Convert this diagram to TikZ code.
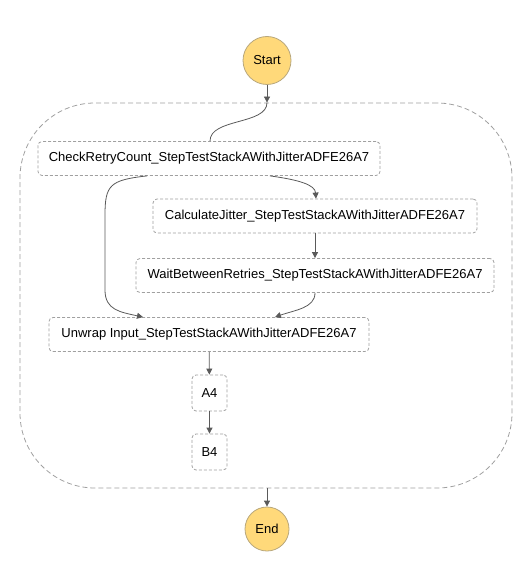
\documentclass[tikz,border=0pt]{standalone}
\usepackage{fontspec}
\setmainfont{Liberation Sans}
\usetikzlibrary{arrows.meta,calc}
\definecolor{dashgray}{HTML}{A0A0A0}
\definecolor{linegray}{HTML}{5A5A5A}
\definecolor{termfill}{HTML}{FFD97A}
\definecolor{termline}{HTML}{B8A77C}
\tikzset{
  statebox/.style={draw=dashgray, dashed, dash pattern=on 3pt off 2pt, rounded corners=4pt, line width=0.8pt,
    minimum height=34pt, inner xsep=0pt, font=\fontsize{13}{15}\selectfont, text=black},
  term/.style={circle, draw=termline, fill=termfill, line width=0.8pt, inner sep=0pt,
    font=\fontsize{13}{15}\selectfont},
  conn/.style={draw=linegray, line width=0.8pt, -{Triangle[length=6pt,width=6pt]}},
  plainconn/.style={draw=linegray, line width=0.8pt},
}
\begin{document}
\begin{tikzpicture}[x=1pt,y=-1pt]
\useasboundingbox (0,0) rectangle (528,569);
\node[draw=dashgray, dashed, dash pattern=on 5pt off 3pt, line width=0.8pt, rounded corners=75pt,
  minimum width=492pt, minimum height=385pt, inner sep=0pt] (container) at (266,295.5) {};
\node[term, minimum size=48pt] (start) at (267,60.5) {Start};
\node[term, minimum size=44pt] (end) at (267,529) {End};
\node[statebox, minimum width=342pt] (check) at (209,158.5) {CheckRetryCount\_StepTestStackAWithJitterADFE26A7};
\node[statebox, minimum width=324pt] (calc) at (315,216) {CalculateJitter\_StepTestStackAWithJitterADFE26A7};
\node[statebox, minimum width=358pt] (wait) at (315,275.5) {WaitBetweenRetries\_StepTestStackAWithJitterADFE26A7};
\node[statebox, minimum width=320pt] (unwrap) at (209,334.5) {Unwrap Input\_StepTestStackAWithJitterADFE26A7};
\node[statebox, minimum width=35pt, minimum height=36pt] (a4) at (209.5,393) {A4};
\node[statebox, minimum width=35pt, minimum height=36pt] (b4) at (209.5,452) {B4};

\coordinate (ctop) at (start.south |- container.north);
\coordinate (cbot) at (end.north |- container.south);
\draw[conn] (start) -- (ctop);
\draw[plainconn] (ctop) .. controls (267,125) and (210,118) .. ($(check.north)+(1,0)$);
\coordinate (cs1) at ($(check.south)+(61,0)$);
\coordinate (cs2) at ($(check.south)+(-62,0)$);
\draw[conn] (cs1) .. controls (300,180) and (315,185) .. ($(calc.north)+(1,0)$);
\draw[conn] (cs2) .. controls (110,180) and (105,185) .. (105,215) -- (105,290) .. controls (105,310) and (120,312) .. ($(unwrap.north)+(-66,0)$);
\draw[conn] (calc) -- (wait);
\draw[conn] (wait.south) .. controls (315,308) and (295,310) .. ($(unwrap.north)+(66,0)$);
\draw[conn] (unwrap) -- (a4);
\draw[conn] (a4) -- (b4);
\draw[conn] (cbot) -- (end);
\end{tikzpicture}
\end{document}
